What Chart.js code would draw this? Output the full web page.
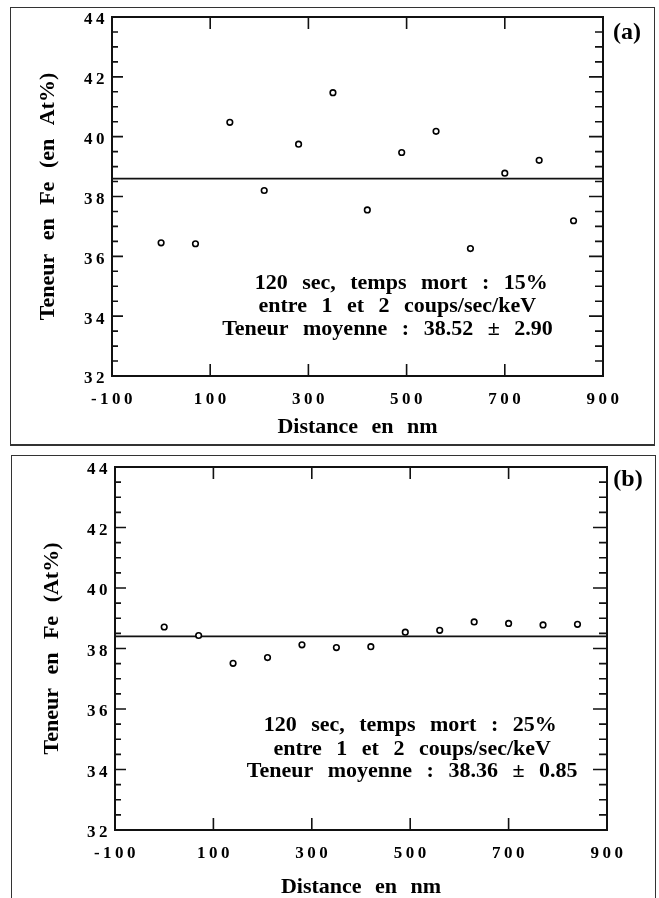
<!DOCTYPE html>
<html>
<head>
<meta charset="utf-8">
<script src="https://cdn.jsdelivr.net/npm/chart.js@4.4.0/dist/chart.umd.min.js"></script>
<style>
  html, body { margin: 0; padding: 0; background: #fff; width: 659px; height: 898px; overflow: hidden; }
  .frame { position: absolute; box-sizing: border-box; border: 1.5px solid #333; }
  canvas { position: absolute; left: 0; }
</style>
</head>
<body>
<div class="frame" style="left:10px; top:7px; width:645px; height:439px; border-bottom-width:2px;"></div>
<div class="frame" style="left:11px; top:455px; width:645px; height:470px;"></div>
<canvas id="chartA" width="659" height="445" style="top:0;"></canvas>
<canvas id="chartB" width="659" height="453" style="top:445px;"></canvas>
<script>
// ---------- data ----------
const DIST_A = [0, 70, 140, 210, 280, 350, 420, 490, 560, 630, 700, 770, 840];
const FE_A   = [36.45, 36.42, 40.48, 38.2, 39.75, 41.47, 37.55, 39.47, 40.18, 36.26, 38.78, 39.21, 37.19];
const MEAN_A = 38.6;

const DIST_B = [0, 70, 140, 210, 280, 350, 420, 490, 560, 630, 700, 770, 840];
const FE_B   = [38.71, 38.43, 37.51, 37.70, 38.12, 38.03, 38.06, 38.54, 38.60, 38.88, 38.83, 38.78, 38.80];
const MEAN_B = 38.4;

const X_TICKS = [-100, 100, 300, 500, 700, 900];
const Y_TICKS = [32, 34, 36, 38, 40, 42, 44];
const Y_MINOR = [32.5, 33, 33.5, 34.5, 35, 35.5, 36.5, 37, 37.5, 38.5, 39, 39.5, 40.5, 41, 41.5, 42.5, 43, 43.5];

const X_TITLE = "Distance en nm";
const Y_TITLE_A = "Teneur en Fe (en At%)";
const Y_TITLE_B = "Teneur en Fe (At%)";
const NOTE_A = ["120 sec, temps mort : 15%", "entre 1 et 2 coups/sec/keV", "Teneur moyenne : 38.52 \u00B1 2.90"];
const NOTE_B = ["120 sec, temps mort : 25%", "entre 1 et 2 coups/sec/keV", "Teneur moyenne : 38.36 \u00B1 0.85"];
const LABEL_A = "(a)";
const LABEL_B = "(b)";

// ---------- styling / layout ----------
const SERIF = "'Liberation Serif', 'Times New Roman', serif";

function makeChart(id, dist, fe, mean, cfg) {
  const framePlugin = {
    id: 'frameTicks' + id,
    beforeDraw(chart) {
      chart.ctx.letterSpacing = '3.5px';
    },
    afterDraw(chart) {
      const ctx = chart.ctx;
      const a = chart.chartArea;
      const xs = chart.scales.x, ys = chart.scales.y;
      ctx.save();
      ctx.letterSpacing = '0px';
      ctx.strokeStyle = '#111';
      ctx.lineWidth = 1.6;
      ctx.beginPath();
      Y_TICKS.forEach(v => {
        const p = ys.getPixelForValue(v);
        ctx.moveTo(a.left, p); ctx.lineTo(a.left + 11, p);
        ctx.moveTo(a.right, p); ctx.lineTo(a.right - 14, p);
      });
      Y_MINOR.forEach(v => {
        const p = ys.getPixelForValue(v);
        ctx.moveTo(a.left, p); ctx.lineTo(a.left + 6, p);
        ctx.moveTo(a.right, p); ctx.lineTo(a.right - 8, p);
      });
      X_TICKS.forEach(v => {
        const p = xs.getPixelForValue(v);
        ctx.moveTo(p, a.bottom); ctx.lineTo(p, a.bottom - 12);
        ctx.moveTo(p, a.top); ctx.lineTo(p, a.top + 12);
      });
      ctx.stroke();
      ctx.lineWidth = 2;
      ctx.strokeRect(a.left, a.top, a.right - a.left, a.bottom - a.top);

      ctx.fillStyle = '#000';
      ctx.textAlign = 'center';
      ctx.textBaseline = 'middle';
      // annotation block
      ctx.font = 'bold 22px ' + SERIF;
      ctx.wordSpacing = '9px';
      cfg.note.forEach((t, i) => {
        ctx.fillText(t, xs.getPixelForValue(cfg.noteX[i]), ys.getPixelForValue(cfg.noteY[i]));
      });
      // axis titles
      ctx.font = 'bold 22px ' + SERIF;
      ctx.wordSpacing = '8px';
      ctx.fillText(X_TITLE, (a.left + a.right) / 2, cfg.xTitleY);
      ctx.save();
      ctx.translate(cfg.yTitleX, (a.top + a.bottom) / 2);
      ctx.rotate(-Math.PI / 2);
      ctx.fillText(cfg.yTitle, 0, 0);
      ctx.restore();
      // panel label
      ctx.wordSpacing = '0px';
      ctx.font = 'bold 24px ' + SERIF;
      ctx.fillText(cfg.label, cfg.labelX, cfg.labelY);
      ctx.restore();
    }
  };

  return new Chart(document.getElementById(id), {
    type: 'scatter',
    data: {
      datasets: [
        {
          data: dist.map((d, i) => ({ x: d, y: fe[i] })),
          pointStyle: 'circle',
          pointRadius: 2.8,
          pointBorderWidth: 1.6,
          pointBackgroundColor: '#fff',
          pointBorderColor: '#000',
          showLine: false
        },
        {
          type: 'line',
          data: [{ x: X_TICKS[0], y: mean }, { x: X_TICKS[X_TICKS.length - 1], y: mean }],
          borderColor: '#111',
          borderWidth: 1.8,
          pointRadius: 0
        }
      ]
    },
    options: {
      responsive: false,
      animation: false,
      devicePixelRatio: 1,
      layout: { padding: cfg.padding },
      plugins: { legend: { display: false }, tooltip: { enabled: false } },
      scales: {
        x: {
          type: 'linear',
          min: -100, max: 900,
          afterBuildTicks: s => { s.ticks = X_TICKS.map(v => ({ value: v })); },
          grid: { display: false, drawTicks: false },
          border: { display: false },
          ticks: { color: '#000', padding: cfg.xPad, labelOffset: 1.5, font: { family: SERIF, weight: 'bold', size: 17 } },
          afterFit: s => { s.height = cfg.xHeight; }
        },
        y: {
          type: 'linear',
          min: 32, max: 44,
          afterBuildTicks: s => { s.ticks = Y_TICKS.map(v => ({ value: v })); },
          grid: { display: false, drawTicks: false },
          border: { display: false },
          ticks: { color: '#000', padding: cfg.yPad, labelOffset: 3, font: { family: SERIF, weight: 'bold', size: 17 } },
          afterFit: s => { s.width = cfg.yWidth; }
        }
      }
    },
    plugins: [framePlugin]
  });
}

makeChart('chartA', DIST_A, FE_A, MEAN_A, {
  padding: { top: 17, right: 56, bottom: 0, left: 0 },
  yWidth: 112, xHeight: 69, xPad: 13, yPad: 4,
  note: NOTE_A, noteX: [489, 481, 461], noteY: [35.09, 34.33, 33.55],
  xTitleY: 427, yTitleX: 48, yTitle: Y_TITLE_A,
  label: LABEL_A, labelX: 627, labelY: 33
});

makeChart('chartB', DIST_B, FE_B, MEAN_B, {
  padding: { top: 22, right: 52, bottom: 0, left: 0 },
  yWidth: 115, xHeight: 68, xPad: 13, yPad: 4,
  note: NOTE_B, noteX: [500, 504, 504], noteY: [35.45, 34.67, 33.93],
  xTitleY: 442, yTitleX: 52, yTitle: Y_TITLE_B,
  label: LABEL_B, labelX: 628, labelY: 35
});
</script>
</body>
</html>
